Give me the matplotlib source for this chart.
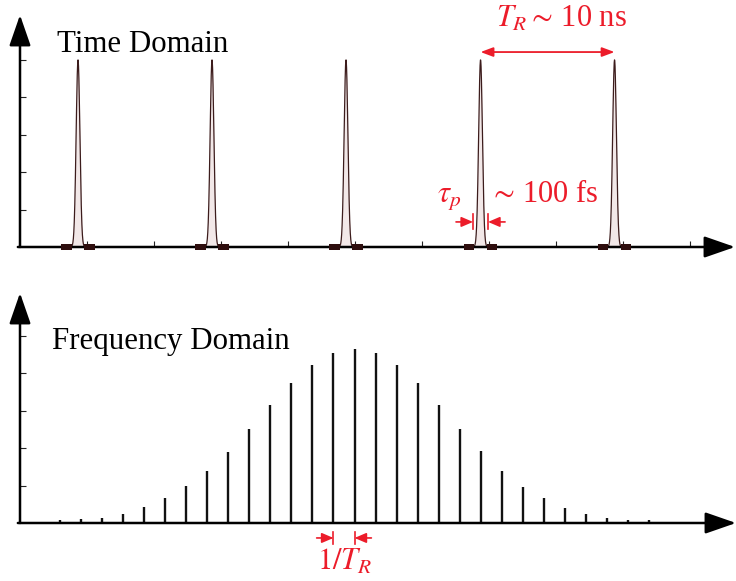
import numpy as np
import matplotlib
matplotlib.use('Agg')
import matplotlib.pyplot as plt

plt.rcParams['font.family'] = ['Liberation Serif', 'DejaVu Serif']
plt.rcParams['mathtext.fontset'] = 'stix'

RED = '#ec1c2a'
PULSE = '#3c1c1c'

# Time domain: pulse train (times in ns)
pulse_centers = [4.33, 14.33, 24.33, 34.37, 44.37]
pulse_peak = 5.0
pulse_sigma = 0.14
marker_offset = 0.86
marker_width = 0.8

# Frequency domain: comb line positions (in units of 1/T_R) and heights
comb_n = list(range(2, 31))
comb_heights = [0.07, 0.11, 0.13, 0.24, 0.43, 0.66, 0.99, 1.39, 1.90, 2.51,
                3.16, 3.74, 4.22, 4.55, 4.65, 4.55, 4.22, 3.74, 3.16, 2.51,
                1.93, 1.39, 0.96, 0.66, 0.40, 0.24, 0.13, 0.09, 0.07]

fig = plt.figure(figsize=(7.36, 5.81), dpi=100)
W, H = 736, 581
ax_t = fig.add_axes([20 / W, (H - 247) / H, 715 / W, 232 / H])
ax_f = fig.add_axes([20 / W, (H - 523) / H, 716 / W, 230 / H])


def draw_axes(ax):
    for s in ax.spines.values():
        s.set_visible(False)
    arrow = dict(arrowstyle='-|>,head_length=0.95,head_width=0.33', lw=1.8,
                 color='black', mutation_scale=20, shrinkA=0, shrinkB=0)
    ax.annotate('', xy=(1, 0), xytext=(-0.003, 0), xycoords='axes fraction',
                arrowprops=arrow)
    ax.annotate('', xy=(0, 1), xytext=(0, 0), xycoords='axes fraction',
                arrowprops=arrow)
    ax.tick_params(direction='in', length=4, width=0.8, color='#222222',
                   labelbottom=False, labelleft=False)


# ---- time domain ----
draw_axes(ax_t)
ax_t.set_xlim(0, 53.36)
ax_t.set_ylim(0, 6.2)
ax_t.set_xticks(np.arange(5, 51, 5))
ax_t.set_yticks([1, 2, 3, 4, 5])

t = np.linspace(0, 53, 8000)
for c in pulse_centers:
    y = pulse_peak * np.exp(-(t - c) ** 2 / (2 * pulse_sigma ** 2))
    m = np.abs(t - c) < 6 * pulse_sigma
    ax_t.fill_between(t[m], 0, y[m], color='#f2e8e8', lw=0)
    ax_t.plot(t[m], y[m], color=PULSE, lw=0.9)
    ax_t.bar([c - marker_offset, c + marker_offset], 0.18, width=marker_width,
             bottom=-0.09, color='#2e0e0e', clip_on=False, zorder=3)

ax_t.text(2.75, 5.21, 'Time Domain', fontsize=22.2, va='baseline')

# repetition period
ax_t.annotate('', xy=(pulse_centers[4], 5.21), xytext=(pulse_centers[3], 5.21),
              arrowprops=dict(arrowstyle='<|-|>,head_length=0.75,head_width=0.28',
                              color=RED, lw=1.3, mutation_scale=10,
                              shrinkA=0, shrinkB=0))
ax_t.text(35.55, 5.88, r'$T_R\sim\,$10 ns', color=RED, fontsize=22,
          va='baseline')

# pulse duration
c = pulse_centers[3]
ya = 0.67
for side in (-1, 1):
    xb = c + side * 0.56
    ax_t.plot([xb, xb], [ya - 0.2, ya + 0.2], color=RED, lw=1.2)
    ax_t.annotate('', xy=(xb, ya), xytext=(xb + side * 1.27, ya),
                  arrowprops=dict(arrowstyle='-|>,head_length=0.7,head_width=0.3',
                                  color=RED, lw=1.2, mutation_scale=10,
                                  shrinkA=0, shrinkB=0))
ax_t.text(31.1, 1.2, r'$\tau_p$', color=RED, fontsize=22, va='baseline')
ax_t.text(35.0, 1.2, r'$\sim\,$100 fs', color=RED, fontsize=22,
          va='baseline')

# ---- frequency domain ----
draw_axes(ax_f)
ax_f.set_xlim(0.1, 34.13)
ax_f.set_ylim(0, 6.15)
ax_f.set_xticks([])
ax_f.set_yticks([1, 2, 3, 4, 5])

ax_f.vlines(comb_n, 0, comb_heights, color='#111111', lw=1.7)
ax_f.text(1.62, 4.65, 'Frequency Domain', fontsize=22.2, va='baseline')

# comb spacing
ya = -0.40
pair = (comb_n[13], comb_n[14])
for xb, side in zip(pair, (-1, 1)):
    ax_f.plot([xb, xb], [ya - 0.16, ya + 0.16], color=RED, lw=1.2, clip_on=False)
    ax_f.annotate('', xy=(xb, ya), xytext=(xb + side * 0.8, ya),
                  annotation_clip=False,
                  arrowprops=dict(arrowstyle='-|>,head_length=0.7,head_width=0.3',
                                  color=RED, lw=1.2, mutation_scale=10,
                                  shrinkA=0, shrinkB=0))
ax_f.text(14.2, -1.26, r'$1/T_R$', color=RED, fontsize=22, va='baseline')

fig.savefig('out.png', dpi=100)
